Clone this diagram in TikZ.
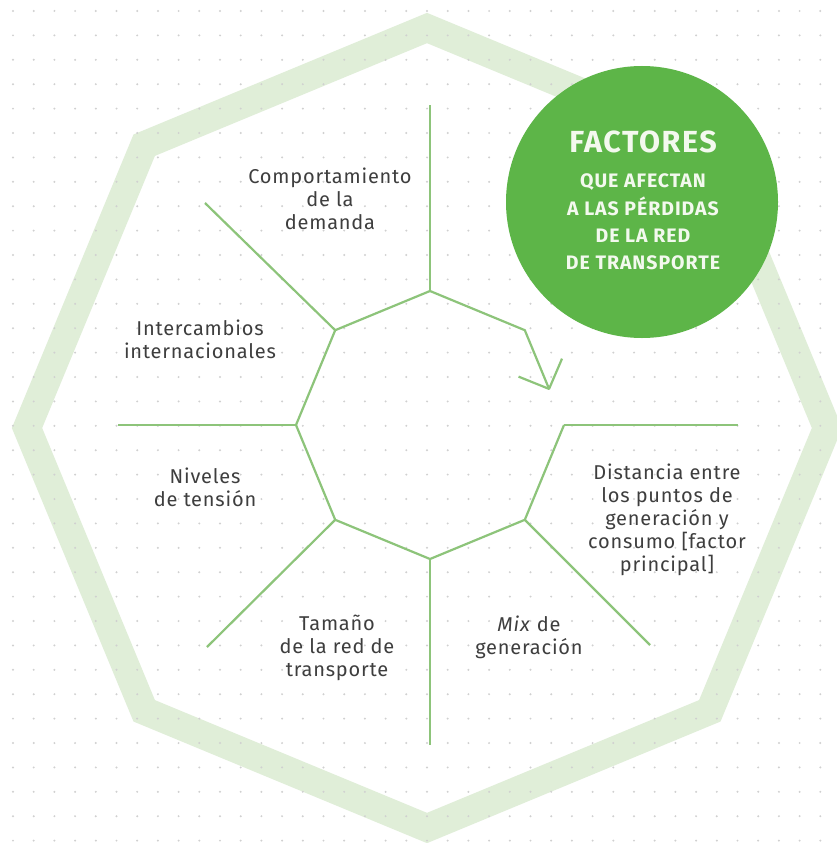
\documentclass[tikz,border=0pt]{standalone}
\usepackage{fontspec}
\setmainfont{Fira Sans}
\newfontfamily\bodyfont{Fira Sans}[LetterSpace=4]
\newfontfamily\headfont{Fira Sans}[LetterSpace=5]
\usetikzlibrary{arrows.meta,calc}
\definecolor{bandgreen}{HTML}{E0EED8}
\definecolor{linegreen}{HTML}{8DC47A}
\definecolor{discgreen}{HTML}{5DB548}
\definecolor{dotgrey}{HTML}{D0D0D0}
\definecolor{textgrey}{HTML}{3E3E3E}
\definecolor{headwhite}{HTML}{F3F9EE}
\begin{document}
\begin{tikzpicture}[x=1pt,y=-1pt,
  band/.style={draw=bandgreen,line width=28pt,line join=miter},
  flow/.style={draw=linegreen,line width=2.2pt,line join=round},
  spoke/.style={draw=linegreen,line width=2.2pt},
  factor/.style={font=\bodyfont\fontsize{20}{23}\selectfont,text=textgrey,align=center,inner sep=0pt},
  headbig/.style={font=\headfont\bfseries\fontsize{30.5}{31}\selectfont,text=headwhite,inner sep=0pt},
  headsmall/.style={font=\headfont\bfseries\fontsize{19.5}{27.3}\selectfont,text=headwhite,align=center,inner sep=0pt}
]
\useasboundingbox (0,0) rectangle (836,843);
\fill[white] (0,0) rectangle (836,843);

% outer octagonal frame
\draw[band] (427,28) -- (709.8,145.2) -- (827,428) -- (709.8,710.8) -- (427,828)
  -- (144.2,710.8) -- (27,428) -- (144.2,145.2) -- cycle;

% dotted background grid
\foreach \i in {0,...,39}
  \foreach \j in {0,...,34}
    \fill[dotgrey] (13+20.7*\i, 11+24.4*\j) circle (1.1pt);

% inner cycle vertices
\coordinate (tp) at (430,291);
\coordinate (ur) at (524.8,330.2);
\coordinate (rt) at (564,425);
\coordinate (lr) at (524.8,519.8);
\coordinate (bt) at (430,559);
\coordinate (ll) at (335.2,519.8);
\coordinate (lf) at (296,425);
\coordinate (ul) at (335.2,330.2);
\coordinate (tip) at ($(ur)!0.63!(rt)$);

% spoke ends
\coordinate (tpE) at (430,105);
\coordinate (ulE) at (205,203);
\coordinate (lfE) at (118,425);
\coordinate (llE) at (207,647);
\coordinate (btE) at (430,745);
\coordinate (lrE) at (650,645);
\coordinate (rtE) at (738,425);

\draw[spoke] (tp) -- (tpE);
\draw[spoke] (ul) -- (ulE);
\draw[spoke] (lf) -- (lfE);
\draw[spoke] (ll) -- (llE);
\draw[spoke] (bt) -- (btE);
\draw[spoke] (lr) -- (lrE);
\draw[spoke] (rt) -- (rtE);

% clockwise cycle ending in an open arrow
\draw[flow,-{Straight Barb[length=23pt,width=47pt,line join=round]}]
  (rt) -- (lr) -- (bt) -- (ll) -- (lf) -- (ul) -- (tp) -- (ur) -- (tip);

% title disc
\fill[discgreen] (642,202) circle (136);
\node[headbig] (title) at (643,142) {FACTORES};
\node[headsmall] (subtitle) at (643,222) {QUE AFECTAN\\A LAS PÉRDIDAS\\DE LA RED\\DE TRANSPORTE};

% factor labels
\node[factor] (demanda) at (330,199) {Comportamiento\\de la\\demanda};
\node[factor] (intercambios) at (200,339) {Intercambios\\internacionales};
\node[factor] (tension) at (205,487) {Niveles\\de tensión};
\node[factor] (tamano) at (337,648) {Tamaño\\de la red de\\transporte};
\node[factor] (mix) at (529,637) {\textit{Mix} de\\generación};
\node[factor] (distancia) at (667,520) {Distancia entre\\los puntos de\\generación y\\consumo [factor\\principal]};
\end{tikzpicture}
\end{document}
